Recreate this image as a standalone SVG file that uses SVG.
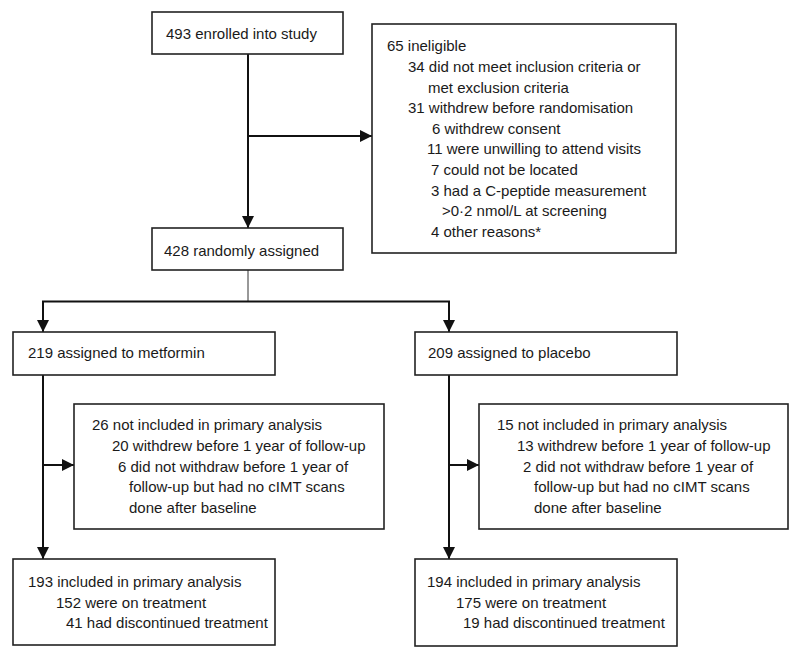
<svg xmlns="http://www.w3.org/2000/svg" width="800" height="658" viewBox="0 0 800 658">
<defs>
<style>
.box{fill:#fff;stroke:#222;stroke-width:1.6}
.t{font-family:"Liberation Sans",Arial,sans-serif;font-size:15px;fill:#1a1a1a}
.ln{fill:none;stroke:#111;stroke-width:2}
.thin{fill:none;stroke:#333;stroke-width:1}
</style>
<marker id="ah" markerUnits="userSpaceOnUse" markerWidth="12" markerHeight="12" refX="12" refY="6" orient="auto">
<path d="M0,0 L12,6 L0,12 z" fill="#111"/>
</marker>
</defs>
<rect width="800" height="658" fill="#fff"/>
<g id="connectors">
<path class="ln" d="M248,54 V228" marker-end="url(#ah)"/>
<path class="ln" d="M248,136 H372" marker-end="url(#ah)"/>
<path class="thin" d="M248,270 V301.5"/>
<path class="ln" d="M43,332 V301.5 H449 V332" marker-end="url(#ah)"/>
<path class="ln" d="M43,301.5 V332" marker-end="url(#ah)"/>
<path class="ln" d="M43,375 V559" marker-end="url(#ah)"/>
<path class="ln" d="M43,465 H74" marker-end="url(#ah)"/>
<path class="ln" d="M449,375 V559" marker-end="url(#ah)"/>
<path class="ln" d="M449,465 H479" marker-end="url(#ah)"/>
</g>
<g id="enrolled">
<rect class="box" x="152" y="12" width="191" height="42"/>
<text class="t" x="166" y="39">493 enrolled into study</text>
</g>
<g id="ineligible">
<rect class="box" x="372" y="24" width="304" height="229"/>
<text class="t" x="387" y="51">65 ineligible</text>
<text class="t" x="408" y="72">34 did not meet inclusion criteria or</text>
<text class="t" x="428" y="92.5">met exclusion criteria</text>
<text class="t" x="408" y="113">31 withdrew before randomisation</text>
<text class="t" x="432" y="133.5">6 withdrew consent</text>
<text class="t" x="427" y="154">11 were unwilling to attend visits</text>
<text class="t" x="431" y="175">7 could not be located</text>
<text class="t" x="431" y="195.5">3 had a C-peptide measurement</text>
<text class="t" x="442" y="216">&gt;0·2 nmol/L at screening</text>
<text class="t" x="431" y="236.5">4 other reasons*</text>
</g>
<g id="randomised">
<rect class="box" x="152" y="228" width="191" height="42"/>
<text class="t" x="164" y="256">428 randomly assigned</text>
</g>
<g id="metformin">
<rect class="box" x="13" y="332" width="262" height="43"/>
<text class="t" x="28" y="358">219 assigned to metformin</text>
</g>
<g id="placebo">
<rect class="box" x="415" y="332" width="262" height="43"/>
<text class="t" x="428" y="358">209 assigned to placebo</text>
</g>
<g id="excl-metformin">
<rect class="box" x="74" y="404" width="310" height="125"/>
<text class="t" x="92" y="430">26 not included in primary analysis</text>
<text class="t" x="112" y="451">20 withdrew before 1 year of follow-up</text>
<text class="t" x="118" y="471.5">6 did not withdraw before 1 year of</text>
<text class="t" x="129" y="492">follow-up but had no cIMT scans</text>
<text class="t" x="129" y="512.5">done after baseline</text>
</g>
<g id="excl-placebo">
<rect class="box" x="479" y="404" width="309" height="125"/>
<text class="t" x="497" y="430">15 not included in primary analysis</text>
<text class="t" x="517" y="451">13 withdrew before 1 year of follow-up</text>
<text class="t" x="523" y="471.5">2 did not withdraw before 1 year of</text>
<text class="t" x="534" y="492">follow-up but had no cIMT scans</text>
<text class="t" x="534" y="512.5">done after baseline</text>
</g>
<g id="analysis-metformin">
<rect class="box" x="13" y="559" width="262" height="86"/>
<text class="t" x="28" y="587">193 included in primary analysis</text>
<text class="t" x="56" y="607.5">152 were on treatment</text>
<text class="t" x="66" y="628">41 had discontinued treatment</text>
</g>
<g id="analysis-placebo">
<rect class="box" x="415" y="559" width="262" height="87"/>
<text class="t" x="427" y="587">194 included in primary analysis</text>
<text class="t" x="456" y="607.5">175 were on treatment</text>
<text class="t" x="463" y="628">19 had discontinued treatment</text>
</g>
</svg>
